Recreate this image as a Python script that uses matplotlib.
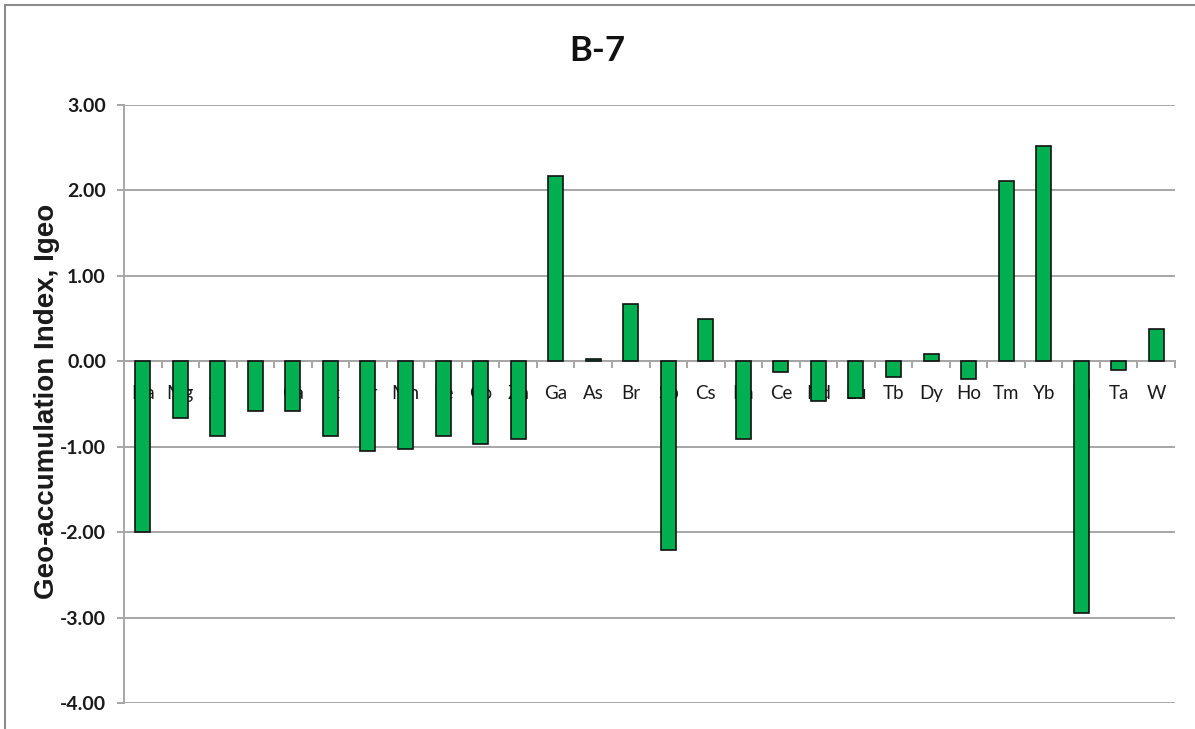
import matplotlib
matplotlib.use("Agg")
import matplotlib.pyplot as plt
from matplotlib.patches import Rectangle
from matplotlib.ticker import MultipleLocator, FixedLocator, FuncFormatter
import numpy as np

elements = ["Na", "Mg", "Al", "K", "Ca", "Sc", "Cr", "Mn", "Fe", "Co", "Zn",
            "Ga", "As", "Br", "Sb", "Cs", "Ba", "Ce", "Nd", "Eu", "Tb", "Dy",
            "Ho", "Tm", "Yb", "Lu", "Ta", "W"]
igeo = [-2.00, -0.66, -0.87, -0.58, -0.58, -0.87, -1.05, -1.03, -0.87, -0.97, -0.91,
        2.17, 0.03, 0.67, -2.21, 0.50, -0.91, -0.12, -0.46, -0.43, -0.18, 0.09,
        -0.21, 2.11, 2.52, -2.95, -0.10, 0.38]
title = "B-7"
ylabel = "Geo-accumulation Index, Igeo"

W, H = 1195, 729
fig = plt.figure(figsize=(W / 100, H / 100), dpi=100)
fig.patch.set_facecolor("white")

# chart-area frame
fig.patches.append(Rectangle((5 / W, -0.1), 1.2, 1 - 5 / H + 0.1, transform=fig.transFigure,
                             fill=False, edgecolor="#8c8c8c", linewidth=1.5, zorder=0))

ax = fig.add_axes([124 / W, 1 - 703 / H, (1175 - 124) / W, (703 - 105) / H])
x = np.arange(len(elements))
ax.bar(x, igeo, width=0.4, color="#00B050", edgecolor="#111111", linewidth=1.2, zorder=3)

ax.set_xlim(-0.5, len(elements) - 0.5)
ax.set_ylim(-4, 3)
ax.yaxis.set_major_locator(MultipleLocator(1))
ax.yaxis.set_major_formatter(FuncFormatter(lambda v, p: f"{v:.2f}"))
ax.grid(axis="y", color="#a6a6a6", linewidth=1.4)
ax.set_axisbelow(True)

for s in ["top", "right"]:
    ax.spines[s].set_visible(False)
ax.spines["bottom"].set_position(("data", 0))
ax.spines["bottom"].set_color("#a6a6a6")
ax.spines["bottom"].set_linewidth(1.4)
ax.spines["bottom"].set_zorder(1)
ax.spines["left"].set_color("#a6a6a6")
ax.spines["left"].set_linewidth(1.4)

ax.set_xticks(x)
ax.set_xticklabels(elements, fontsize=13.5, family=["Lato", "DejaVu Sans"], color="#1a1a1a")
ax.xaxis.set_minor_locator(FixedLocator(np.arange(-0.5, len(elements), 1.0)))
ax.tick_params(axis="x", which="major", length=0, pad=17)
ax.tick_params(axis="x", which="minor", length=5, width=1.4, color="#a6a6a6", direction="out")
ax.tick_params(axis="y", length=5, width=1.4, color="#a6a6a6", pad=8)
for lab in ax.get_yticklabels():
    lab.set_fontsize(14)
    lab.set_fontweight("bold")
    lab.set_family(["Lato", "DejaVu Sans"])
    lab.set_color("#1a1a1a")

fig.text(47 / W, 1 - 401 / H, ylabel, rotation=90, ha="center", va="center",
         fontsize=20, fontweight="bold", family=["Liberation Sans", "DejaVu Sans"], color="#1a1a1a")
fig.text(597 / W, 1 - 51 / H, title, ha="center", va="center", fontsize=25,
         fontweight="bold", family=["Lato", "DejaVu Sans"], color="#111111")

fig.savefig("out.png", dpi=100, facecolor="white")
